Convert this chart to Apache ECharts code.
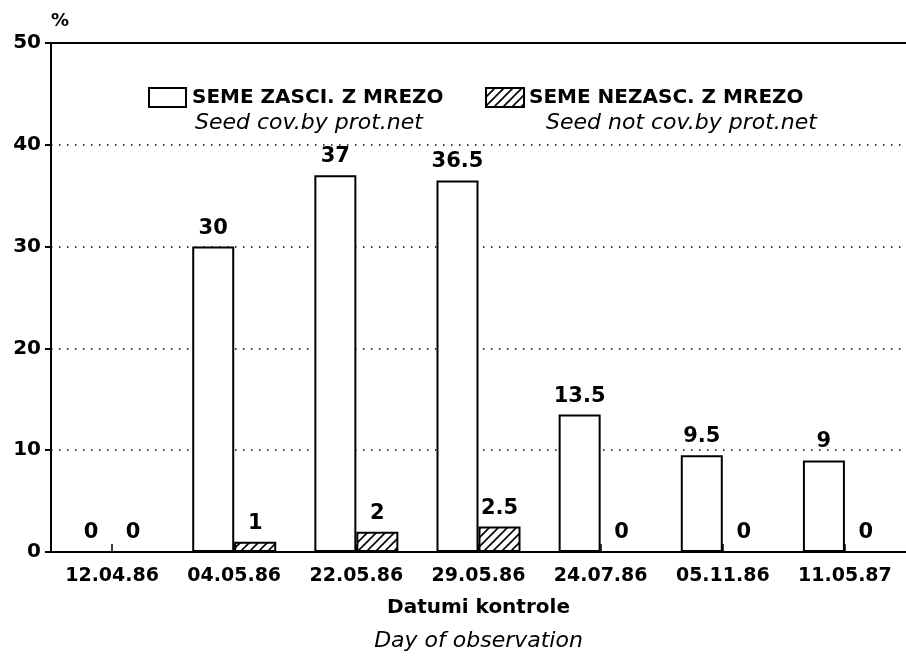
<!DOCTYPE html>
<html><head><meta charset="utf-8">
<script src="https://cdn.jsdelivr.net/npm/echarts@6/dist/echarts.min.js"></script>
<style>html,body{margin:0;padding:0;background:#fff}#c{width:906px;height:657px}</style>
</head><body><div id="c"></div>
<script>
const categories = ['12.04.86','04.05.86','22.05.86','29.05.86','24.07.86','05.11.86','11.05.87'];
const coveredValues = [0, 30, 37, 36.5, 13.5, 9.5, 9];
const uncoveredValues = [0, 1, 2, 2.5, 0, 0, 0];
const yMin = 0, yMax = 50, yStep = 10;
const seriesNames = ['SEME ZASCI. Z MREZO', 'SEME NEZASC. Z MREZO'];
const seriesSubtitles = ['Seed cov.by prot.net', 'Seed not cov.by prot.net'];
const axisTitle = 'Datumi kontrole';
const axisSubtitle = 'Day of observation';
const yName = '%';

function hatch() {
  const s = 9;
  const c = document.createElement('canvas');
  c.width = s; c.height = s;
  const g = c.getContext('2d');
  g.fillStyle = '#fff'; g.fillRect(0, 0, s, s);
  g.strokeStyle = '#000'; g.lineWidth = 1.6;
  g.beginPath();
  g.moveTo(0, s); g.lineTo(s, 0);
  g.moveTo(-2, 2); g.lineTo(2, -2);
  g.moveTo(s - 2, s + 2); g.lineTo(s + 2, s - 2);
  g.stroke();
  return c;
}

const F = 'DejaVu Sans';
const boldText = {fontFamily: F, fontWeight: 'bold', color: '#000'};
const labelStyle = {show: true, position: 'top', distance: 8, fontFamily: F, fontWeight: 'bold', fontSize: 21, color: '#000'};

const chart = echarts.init(document.getElementById('c'), null, {renderer: 'canvas'});
chart.setOption({
  backgroundColor: '#fff',
  animation: false,
  grid: {left: 51, right: -3, top: 43, bottom: 105, containLabel: false},
  legend: [
    {left: 143, top: 82, itemWidth: 37, itemHeight: 19, icon: 'rect', selectedMode: false,
     data: [seriesNames[0]], textStyle: Object.assign({fontSize: 20, padding: [2, 0, 0, 1]}, boldText)},
    {left: 480, top: 82, itemWidth: 38, itemHeight: 19, icon: 'rect', selectedMode: false,
     data: [seriesNames[1]], textStyle: Object.assign({fontSize: 20, padding: [2, 0, 0, 0]}, boldText)}
  ],
  graphic: [
    {type: 'text', style: {text: seriesSubtitles[0], x: 195, y: 123, fontFamily: F, fontStyle: 'italic', fontSize: 22, fill: '#000', verticalAlign: 'middle'}},
    {type: 'text', style: {text: seriesSubtitles[1], x: 546, y: 123, fontFamily: F, fontStyle: 'italic', fontSize: 22, fill: '#000', verticalAlign: 'middle'}}
  ],
  xAxis: [
    {type: 'category', data: categories, boundaryGap: true,
     axisLine: {lineStyle: {color: '#000', width: 2}},
     axisTick: {show: true, inside: true, alignWithLabel: true, length: 8, lineStyle: {color: '#000', width: 1.5}},
     axisLabel: Object.assign({fontSize: 19, margin: 15}, boldText),
     name: '{a|' + axisTitle + '}\n{b|' + axisSubtitle + '}',
     nameLocation: 'middle', nameGap: 42,
     nameTextStyle: {rich: {
       a: {fontFamily: F, fontWeight: 'bold', fontSize: 20, color: '#000', lineHeight: 28},
       b: {fontFamily: F, fontStyle: 'italic', fontSize: 22, color: '#000', lineHeight: 38}
     }}},
    {type: 'category', data: categories, position: 'top',
     axisLine: {lineStyle: {color: '#000', width: 2}},
     axisTick: {show: false}, axisLabel: {show: false}}
  ],
  yAxis: {
    type: 'value', min: yMin, max: yMax, interval: yStep,
    name: yName, nameLocation: 'end', nameGap: 13,
    nameTextStyle: Object.assign({fontSize: 18, align: 'left'}, boldText),
    axisLine: {show: true, lineStyle: {color: '#000', width: 2}},
    axisTick: {show: true, length: 6, lineStyle: {color: '#000', width: 2}},
    axisLabel: Object.assign({fontSize: 20, margin: 10}, boldText),
    splitLine: {show: true, lineStyle: {color: '#000', width: 1.5, type: [1.5, 6.5]}}
  },
  series: [
    {name: seriesNames[0], type: 'bar', data: coveredValues, barWidth: 42, barGap: '0%',
     itemStyle: {color: '#fff', borderColor: '#000', borderWidth: 2},
     label: labelStyle},
    {name: seriesNames[1], type: 'bar', data: uncoveredValues, barWidth: 42, barGap: '0%',
     itemStyle: {color: {image: hatch(), repeat: 'repeat'}, borderColor: '#000', borderWidth: 2},
     label: labelStyle}
  ]
});
</script></body></html>
